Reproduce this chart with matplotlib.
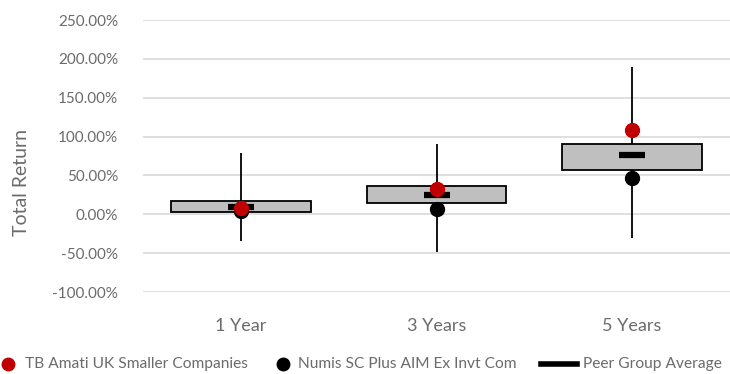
import matplotlib as mpl
mpl.use('Agg')
import matplotlib.pyplot as plt
import numpy as np
from matplotlib.lines import Line2D

plt.rcParams['font.family'] = ['Lato', 'DejaVu Sans']

categories = ['1 Year', '3 Years', '5 Years']
range_low = [-34, -48, -30]
range_high = [79, 91, 190]
quart_low = [3, 15, 57]
quart_high = [17, 36, 90]
fund = [8, 32, 109]
bench = [4, 7, 47]
peer_avg = [10, 25, 76]
yticks = [-100, -50, 0, 50, 100, 150, 200, 250]
legend_labels = ['TB Amati UK Smaller Companies', 'Numis SC Plus AIM Ex Invt Com', 'Peer Group Average']

grey = '#6b6b6b'
x = np.arange(len(categories))
W, H = 730, 374

fig = plt.figure(figsize=(7.3, 3.74), dpi=100)
ax = fig.add_axes([143/W, 82/H, 587/W, 272/H])

ax.vlines(x, range_low, range_high, color='black', lw=1.3, zorder=2)
ax.bar(x, np.array(quart_high) - np.array(quart_low), bottom=quart_low, width=0.714,
       color='#bfbfbf', edgecolor='black', lw=1.3, zorder=3)
ax.plot(x, peer_avg, ls='none', marker='_', ms=19, mew=4.5, color='black', zorder=4)
ax.plot(x, bench, ls='none', marker='o', ms=10, color='black', zorder=5)
ax.plot(x, fund, ls='none', marker='o', ms=10, color='#c00000', zorder=6)

ax.set_xlim(-0.5, 2.5)
ax.set_ylim(-100, 250)
ax.set_yticks(yticks)
ax.set_yticklabels(['%.2f%%' % v for v in yticks])
ax.set_xticks(x)
ax.set_xticklabels(categories)
ax.tick_params(axis='y', length=0, pad=18, labelsize=11, labelcolor=grey)
ax.tick_params(axis='x', length=0, pad=19, labelsize=13, labelcolor=grey)
ax.grid(axis='y', color='#d9d9d9', lw=1.2)
ax.set_axisbelow(True)
for s in ax.spines.values():
    s.set_visible(False)
fig.text(22/W, 1 - 183/H, 'Total Return', rotation=90, ha='center', va='center',
         fontsize=14, color=grey)

# legend drawn by hand along the bottom
ly = 1 - 364/H
fig.add_artist(Line2D([8/W], [ly], ls='none', marker='o', ms=9, color='#c00000'))
fig.add_artist(Line2D([283/W], [ly], ls='none', marker='o', ms=9, color='black'))
fig.add_artist(Line2D([541/W, 577/W], [ly, ly], color='black', lw=4))
for lx, lab in zip([25, 298, 583], legend_labels):
    fig.text(lx/W, ly, lab, ha='left', va='center', fontsize=11.2, color=grey)

fig.savefig('out.png', dpi=100)
